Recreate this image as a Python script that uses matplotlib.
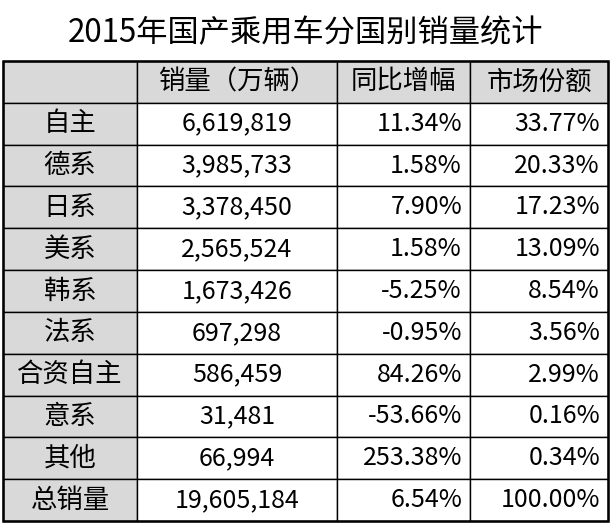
import matplotlib
matplotlib.use("Agg")
import matplotlib.pyplot as plt
from matplotlib.patches import Rectangle

plt.rcParams["font.family"] = "Noto Sans CJK SC"

title = "2015年国产乘用车分国别销量统计"
headers = ["", "销量（万辆）", "同比增幅", "市场份额"]
origins = ["自主", "德系", "日系", "美系", "韩系", "法系", "合资自主", "意系", "其他", "总销量"]
sales = ["6,619,819", "3,985,733", "3,378,450", "2,565,524", "1,673,426",
         "697,298", "586,459", "31,481", "66,994", "19,605,184"]
growth = ["11.34%", "1.58%", "7.90%", "1.58%", "-5.25%",
          "-0.95%", "84.26%", "-53.66%", "253.38%", "6.54%"]
share = ["33.77%", "20.33%", "17.23%", "13.09%", "8.54%",
         "3.56%", "2.99%", "0.16%", "0.34%", "100.00%"]

W, H = 611, 524
fig = plt.figure(figsize=(W / 100, H / 100), dpi=100)
ax = fig.add_axes([0, 0, 1, 1])
ax.set_xlim(0, W)
ax.set_ylim(H, 0)
ax.axis("off")

col_x = [3, 137, 337, 470, 608]
top, bottom = 61, 521
n_rows = len(origins) + 1
row_h = (bottom - top) / n_rows
grey = "#d9d9d9"

ax.text(W / 2, 33, title, ha="center", va="center", fontsize=22.5)

rows = [headers] + [[o, s, g, m] for o, s, g, m in zip(origins, sales, growth, share)]
for r, row in enumerate(rows):
    y0 = top + r * row_h
    for c, txt in enumerate(row):
        x0, x1 = col_x[c], col_x[c + 1]
        fc = grey if (r == 0 or c == 0) else "white"
        ax.add_patch(Rectangle((x0, y0), x1 - x0, row_h, facecolor=fc,
                               edgecolor="black", linewidth=1.0))
        fs = 19 if (r == 0 or c == 0) else 18
        if c >= 2 and r > 0:
            ax.text(x1 - 8, y0 + row_h / 2, txt, ha="right", va="center", fontsize=fs)
        else:
            ax.text((x0 + x1) / 2, y0 + row_h / 2, txt, ha="center", va="center", fontsize=fs)

ax.add_patch(Rectangle((col_x[0], top), col_x[-1] - col_x[0], bottom - top,
                       facecolor="none", edgecolor="black", linewidth=1.8))

fig.savefig("out.png", dpi=100)
